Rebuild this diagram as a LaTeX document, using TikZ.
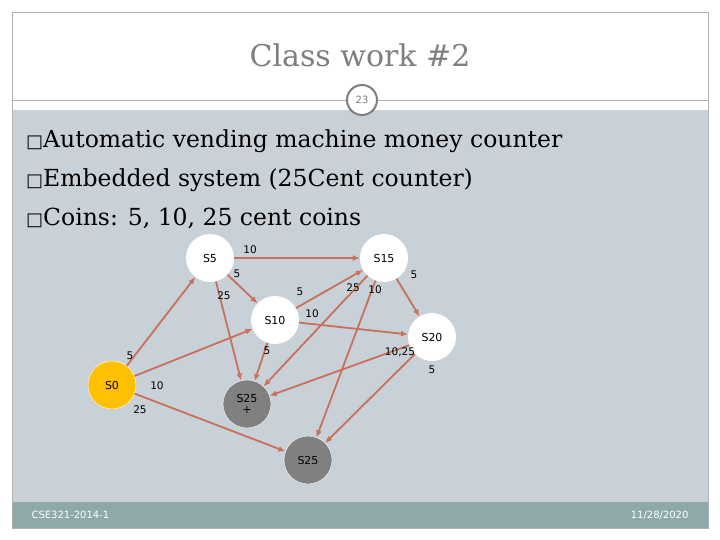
\documentclass[tikz,border=0pt]{standalone}
\usepackage{fontspec}
\usetikzlibrary{arrows.meta}
\setmainfont{DejaVu Serif}
\newfontfamily\djsans{DejaVu Sans}
\begin{document}
\begin{tikzpicture}[x=1pt,y=-1pt,
  st/.style={circle,minimum size=48pt,inner sep=0pt,font=\djsans\fontsize{11}{11}\selectfont},
  ed/.style={draw=arrc,line width=1.8pt,-{Latex[length=7pt,width=6pt]}},
  lb/.style={font=\djsans\fontsize{10.5}{10.5}\selectfont,inner sep=1pt},
  bl/.style={anchor=west,font=\fontsize{23.5}{23.5}\selectfont,inner sep=0pt}]
\definecolor{bgc}{HTML}{C8D1D8}
\definecolor{foot}{HTML}{8FA9AB}
\definecolor{arrc}{HTML}{C8705A}
\definecolor{tgray}{HTML}{7F7F7F}
\definecolor{yel}{HTML}{FFC000}
\useasboundingbox (0,0) rectangle (720,540);
\fill[white] (0,0) rectangle (720,540);
\fill[bgc] (12,110) rectangle (708,502);
\fill[foot] (12,502) rectangle (708,528);
\draw[gray!60,line width=0.5pt] (12,12) rectangle (708,528);
\draw[gray!60] (12,100) -- (708,100);
\node[font=\fontsize{30}{30}\selectfont,text=tgray] (title) at (360,55) {Class work \#2};
\node[circle,draw=tgray,line width=2pt,fill=white,minimum size=30pt,inner sep=0pt,font=\djsans\fontsize{10}{10}\selectfont,text=tgray] (num) at (362,100) {23};
\node[bl] (b1) at (26,141) {{\djsans\fontsize{18}{18}\selectfont □}Automatic vending machine money counter};
\node[bl] (b2) at (26,180) {{\djsans\fontsize{18}{18}\selectfont □}Embedded system (25Cent counter)};
\node[bl] (b3) at (26,218) {{\djsans\fontsize{18}{18}\selectfont □}Coins: 5, 10, 25 cent coins};
\node[anchor=west,text=white,font=\djsans\fontsize{10}{10}\selectfont] (f1) at (28,515) {CSE321-2014-1};
\node[anchor=east,text=white,font=\djsans\fontsize{10}{10}\selectfont] (f2) at (692,515) {11/28/2020};
\node[st,fill=white] (s5) at (210,258) {S5};
\node[st,fill=white] (s15) at (384,258) {S15};
\node[st,fill=white] (s10) at (275,320) {S10};
\node[st,fill=white] (s20) at (432,337) {S20};
\node[st,fill=yel,draw=white] (s0) at (112,385) {S0};
\node[st,fill=gray,draw=white,align=center] (s25p) at (247,404) {S25\\+};
\node[st,fill=gray,draw=white] (s25) at (308,460) {S25};
\draw[ed] (s0) -- (s5);
\draw[ed] (s0) -- (s10);
\draw[ed] (s0) -- (s25);
\draw[ed] (s5) -- (s15);
\draw[ed] (s5) -- (s10);
\draw[ed] (s5) -- (s25p);
\draw[ed] (s10) -- (s15);
\draw[ed] (s10) -- (s20);
\draw[ed] (s10) -- (s25p);
\draw[ed] (s15) -- (s25p);
\draw[ed] (s15) -- (s25);
\draw[ed] (s15) -- (s20);
\draw[ed] (s20) -- (s25p);
\draw[ed] (s20) -- (s25);
\node[lb] (l1) at (250,250) {10};
\node[lb] (l2) at (237,274) {5};
\node[lb] (l3) at (224,296) {25};
\node[lb] (l4) at (300,292) {5};
\node[lb] (l5) at (353,288) {25};
\node[lb] (l6) at (375,290) {10};
\node[lb] (l7) at (414,275) {5};
\node[lb] (l8) at (312,314) {10};
\node[lb] (l9) at (267,351) {5};
\node[lb] (l10) at (400,352) {10,25};
\node[lb] (l11) at (432,370) {5};
\node[lb] (l12) at (130,356) {5};
\node[lb] (l13) at (157,386) {10};
\node[lb] (l14) at (140,410) {25};
\end{tikzpicture}
\end{document}
